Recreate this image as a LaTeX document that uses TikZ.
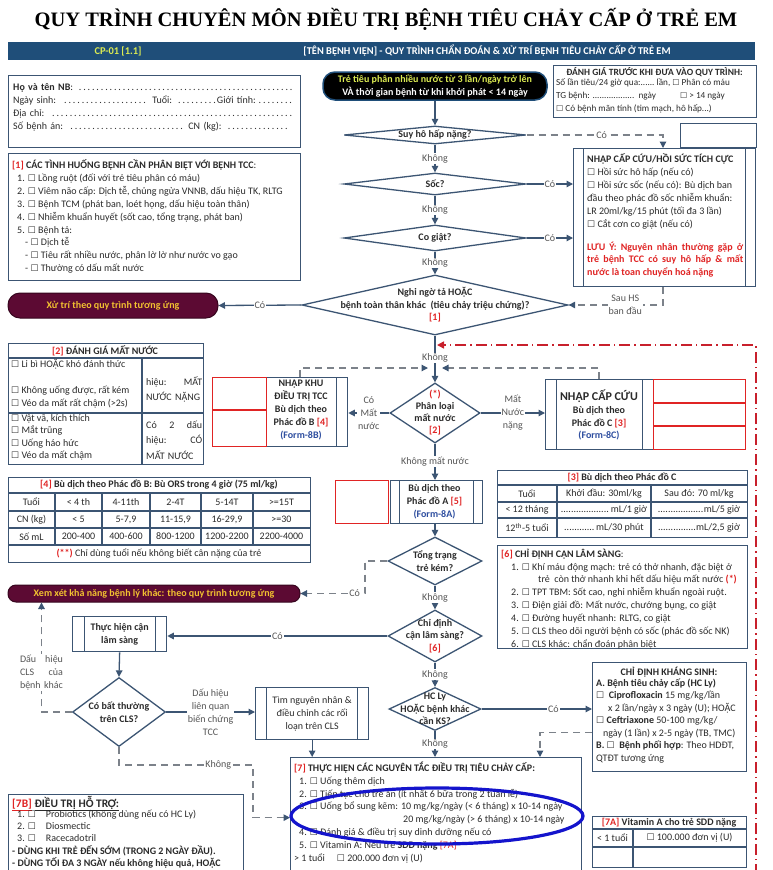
\documentclass[tikz,border=0pt]{standalone}
\usepackage{fontspec}
\setmainfont{Carlito}
\newfontfamily\titlefont{Liberation Serif}
\newfontfamily\symfont{DejaVu Sans}
\usetikzlibrary{arrows.meta,shapes.geometric,positioning,calc}

\definecolor{bord}{HTML}{3C5573}
\definecolor{hdr}{HTML}{1F4E79}
\definecolor{redc}{HTML}{E02424}
\definecolor{formc}{HTML}{2F4FA0}
\definecolor{maroon}{HTML}{5C0A33}
\definecolor{gold}{HTML}{F2C230}
\definecolor{lime}{HTML}{DCEB52}
\definecolor{dgrey}{HTML}{7C828A}
\definecolor{ink}{HTML}{2B2B2B}
\definecolor{ring}{HTML}{1414CC}
\definecolor{loopc}{HTML}{C8202C}

\newcommand{\cb}{{\symfont\fontsize{9}{9}\selectfont ☐}}
\newcommand{\scb}{{\symfont\fontsize{8}{8}\selectfont ☐}}
\newcommand{\rd}[1]{\textcolor{redc}{#1}}
\newcommand{\fs}{\fontsize{10}{12.9}\selectfont}
\newcommand{\dotrun}[1]{\makebox[#1]{\leaders\hbox{.}\hfill}}

\tikzset{
  box/.style={draw=bord, line width=1.3pt, fill=white, anchor=north west, inner sep=0pt},
  proc/.style={box, path picture={
      \draw[bord, line width=1.2pt]
        ([xshift=#1]path picture bounding box.north west) -- ([xshift=#1]path picture bounding box.south west)
        ([xshift=-#1]path picture bounding box.north east) -- ([xshift=-#1]path picture bounding box.south east);}},
  proc/.default=11pt,
  procr/.style={box, path picture={
      \draw[bord, line width=1.2pt]
        ([xshift=-11pt]path picture bounding box.north east) -- ([xshift=-11pt]path picture bounding box.south east);}},
  rbox/.style={draw=redc, line width=1.3pt, fill=white, anchor=north west, inner sep=0pt},
  tline/.style={draw=bord, line width=1.1pt},
  txt/.style={anchor=north west, align=left, inner sep=0pt, font=\fs},
  btxt/.style={align=center, inner sep=0pt, font=\fs\bfseries},
  dia/.style={diamond, draw=bord, line width=1.3pt, fill=white, inner sep=0pt},
  dtxt/.style={align=center, inner sep=0pt, font=\fs\bfseries, text=ink},
  pill/.style={rounded corners=8pt, fill=maroon, draw=maroon!60!black, line width=1pt, text=gold, font=\fs\bfseries, inner sep=0pt},
  lbl/.style={fill=white, inner sep=1pt, text=ink!80, font=\fs},
  arr/.style={draw=bord, line width=1.3pt, -{Triangle[length=6.5pt,width=6.5pt]}},
  garr/.style={draw=dgrey, line width=1.2pt, dash pattern=on 7pt off 5pt, -{Triangle[length=6.5pt,width=6.5pt,color=bord]}},
  redloop/.style={draw=loopc, line width=1.5pt, dash pattern=on 11pt off 4pt on 1.5pt off 4pt, -{Triangle[length=7pt,width=7pt]}},
}

\begin{document}
\begin{tikzpicture}[x=1pt,y=-1pt,font=\fs,text=ink]
\useasboundingbox[fill=white] (0,0) rectangle (772,870);

% title and header bar
\node[font=\titlefont\bfseries\fontsize{20.5}{24}\selectfont, text=black] (title) at (386,19)
  {QUY TRÌNH CHUYÊN MÔN ĐIỀU TRỊ BỆNH TIÊU CHẢY CẤP Ở TRẺ EM};
\node[fill=hdr, anchor=north west, minimum width=747, minimum height=18, inner sep=0pt] (bar) at (8,42) {};
\node[text=lime, font=\fontsize{10.4}{12}\selectfont\bfseries] (cp) at (118,51) {CP-01 [1.1]};
\node[text=white, font=\fontsize{10.4}{12}\selectfont\bfseries] (hname) at (487,51)
  {[TÊN BỆNH VIỆN] - QUY TRÌNH CHẨN ĐOÁN \& XỬ TRÍ BỆNH TIÊU CHẢY CẤP Ở TRẺ EM};

% left column boxes
\node[box, minimum width=292, minimum height=72] (pat) at (8,75) {};
\node[txt, text width=282] (patx) at (13,83.5) {\textbf{Họ và tên NB}: \dotfill\\
Ngày sinh: \makebox[88pt]{\dotfill} Tuổi: \makebox[40pt]{\dotfill}Giới tính:\dotfill\\
Địa chỉ: \dotfill\\
Số bệnh án: \makebox[117pt]{\dotfill} CN (kg): \dotfill\hspace*{6pt}};

\node[box, minimum width=292, minimum height=127] (b1) at (8,153) {};
\node[txt] (b1x) at (12,159.5) {\textbf{\rd{[1]} CÁC TÌNH HUỐNG BỆNH CẦN PHÂN BIỆT VỚI BỆNH TCC}:\\
\hspace*{5pt}1. \cb\ Lồng ruột (đối với trẻ tiêu phân có máu)\\
\hspace*{5pt}2. \cb\ Viêm não cấp: Dịch tễ, chủng ngừa VNNB, dấu hiệu TK, RLTG\\
\hspace*{5pt}3. \cb\ Bệnh TCM (phát ban, loét họng, dấu hiệu toàn thân)\\
\hspace*{5pt}4. \cb\ Nhiễm khuẩn huyết (sốt cao, tổng trạng, phát ban)\\
\hspace*{5pt}5. \cb\ Bệnh tả:\\
\hspace*{13pt}- \cb\ Dịch tễ\\
\hspace*{13pt}- \cb\ Tiêu rất nhiều nước, phân lờ lờ như nước vo gạo\\
\hspace*{13pt}- \cb\ Thường có dấu mất nước};

\node[pill, rounded corners=12pt, minimum width=210, minimum height=25] (pill1) at (113,305.5) {Xử trí theo quy trình tương ứng};

% [2] danh gia mat nuoc
\node[box, minimum width=195, minimum height=121] (b2) at (8,343) {};
\draw[tline] (8,358) -- (203,358) (142,358) -- (142,464) (8,413) -- (203,413);
\node[btxt] (b2t) at (105,350.5) {\rd{[2]} ĐÁNH GIÁ MẤT NƯỚC};
\node[txt] (b2a) at (11,359.5) {\cb\ Li bì HOẶC khó đánh thức\\ \mbox{}\\ \cb\ Không uống được, rất kém\\ \cb\ Véo da mất rất chậm (>2s)};
\node[txt, font=\fontsize{10}{12.6}\selectfont] (b2b) at (11,414) {\cb\ Vật vã, kích thích\\ \cb\ Mắt trũng\\ \cb\ Uống háo hức\\ \cb\ Véo da mất chậm};
\node[txt, text width=56, font=\fontsize{10}{15}\selectfont] (b2c) at (146,376.5) {hiệu:\hfill MẤT\\NƯỚC NẶNG};
\node[txt, text width=56, font=\fontsize{10}{15.5}\selectfont] (b2d) at (146,420.5) {Có\hfill 2\hfill dấu\\hiệu:\hfill CÓ\\MẤT NƯỚC};

% [4] phac do B
\node[box, minimum width=302, minimum height=85] (b4) at (8,477) {};
\foreach \y in {493,511,528,545} \draw[tline] (8,\y) -- (310,\y);
\foreach \x in {55,102,150,201,253} \draw[tline] (\x,493) -- (\x,545);
\node[btxt] (b4t) at (159,485) {\rd{[4]} Bù dịch theo Phác đồ B: Bù ORS trong 4 giờ (75 ml/kg)};
\foreach \x/\a/\b/\c [count=\i] in {31.5/Tuổi/CN (kg)/Số mL, 78.5/< 4 th/< 5/200-400,
    126/4-11th/{5-7,9}/400-600, 175.5/2-4T/{11-15,9}/800-1200,
    227/5-14T/{16-29,9}/1200-2200, 281.5/>=15T/>=30/2200-4000} {
  \node (ta\i) at (\x,502) {\a};
  \node (tb\i) at (\x,519.5) {\b};
  \node (tc\i) at (\x,536.5) {\c};
}
\node (b4f) at (159,553.5) {\rd{\textbf{(**)}} Chỉ dùng tuổi nếu không biết cân nặng của trẻ};

\node[pill, minimum width=292, minimum height=17] (pill2) at (154,593.5) {Xem xét khả năng bệnh lý khác: theo quy trình tương ứng};

% right column boxes
\node[box, minimum width=203, minimum height=52] (dg) at (553,65) {};
\node[btxt, font=\fontsize{9.5}{11}\selectfont\bfseries] (dgt) at (654.5,72) {ĐÁNH GIÁ TRƯỚC KHI ĐƯA VÀO QUY TRÌNH:};
\node[txt, font=\fontsize{9.2}{12.9}\selectfont] (dgx) at (556,78.2) {Số lần tiêu/24 giờ qua:\dotrun{14pt} lần, \scb\ Phân có máu\\
TG bệnh: \dotrun{44pt} ngày\hspace*{24pt}\scb\ > 14 ngày\\
\scb\ Có bệnh mãn tính (tim mạch, hô hấp...)};

\node[box, minimum width=76, minimum height=24] (emp) at (680,123) {};
\node[proc=10pt, minimum width=182, minimum height=138] (hs) at (573,148) {};
\node[txt] (hsx) at (587,153.5) {\textbf{NHẬP CẤP CỨU/HỒI SỨC TÍCH CỰC}\\
\cb\ Hồi sức hô hấp (nếu có)\\
\cb\ Hồi sức sốc (nếu có): Bù dịch ban\\
đầu theo phác đồ sốc nhiễm khuẩn:\\
LR 20ml/kg/15 phút (tối đa 3 lần)\\
\cb\ Cắt cơn co giật (nếu có)};
\node[txt, text width=156, align=justify, font=\fontsize{10}{12.6}\selectfont\bfseries, text=redc] (hsn) at (587,241.5)
  {LƯU Ý: Nguyên nhân thường gặp ở\linebreak trẻ bệnh TCC có suy hô hấp \& mất\linebreak nước là toan chuyển hoá nặng};

% [3] phac do C
\node[box, minimum width=250, minimum height=67] (b3) at (497,470) {};
\foreach \y in {485,502,518} \draw[tline] (497,\y) -- (747,\y);
\foreach \x in {557,651} \draw[tline] (\x,485) -- (\x,537);
\node[btxt] (b3t) at (622,477.5) {\rd{[3]} Bù dịch theo Phác đồ C};
\foreach \y/\a/\b/\c [count=\i] in {493.5/Tuổi/{Khởi đầu: 30ml/kg}/{Sau đó: 70 ml/kg},
    510/< 12 tháng/{\dotrun{50pt}mL/1 giờ}/{\dotrun{46pt}mL/5 giờ},
    527.5/{12\textsuperscript{th}-5 tuổi}/{\dotrun{32pt}mL/30 phút}/{\dotrun{38pt}mL/2,5 giờ}} {
  \node (ca\i) at (527,\y) {\a};
  \node (cb\i) at (604,\y) {\b};
  \node (cc\i) at (699,\y) {\c};
}

% [6] chi dinh CLS
\node[box, minimum width=250, minimum height=103] (b6) at (497,545) {};
\node[txt] (b6x) at (501,548.5) {\textbf{\rd{[6]} CHỈ ĐỊNH CẬN LÂM SÀNG}:\\
\hspace*{10pt}1. \cb\ Khí máu động mạch: trẻ có thở nhanh, đặc biệt ở\\
\hspace*{37pt}trẻ\ \ còn thở nhanh khi hết dấu hiệu mất nước \rd{\textbf{(*)}}\\
\hspace*{10pt}2. \cb\ TPT TBM: Sốt cao, nghi nhiễm khuẩn ngoài ruột.\\
\hspace*{10pt}3. \cb\ Điện giải đồ: Mất nước, chướng bụng, co giật\\
\hspace*{10pt}4. \cb\ Đường huyết nhanh: RLTG, co giật\\
\hspace*{10pt}5. \cb\ CLS theo dõi người bệnh có sốc (phác đồ sốc NK)\\
\hspace*{10pt}6. \cb\ CLS khác: chẩn đoán phân biệt};

% khang sinh
\node[box, minimum width=154, minimum height=109] (ks) at (592,662) {};
\node[btxt] (kst) at (669,672) {CHỈ ĐỊNH KHÁNG SINH:};
\node[txt, font=\fontsize{10}{12.5}\selectfont] (ksx) at (596,678.5) {\textbf{A. Bệnh tiêu chảy cấp (HC Ly)}\\
\cb\ \ \textbf{Ciprofloxacin} 15 mg/kg/lần\\
\hspace*{12pt}x 2 lần/ngày x 3 ngày (U); HOẶC\\
\cb\ \textbf{Ceftriaxone} 50-100 mg/kg/\\
\hspace*{7pt}ngày (1 lần) x 2-5 ngày (TB, TMC)\\
\textbf{B. \cb\ \ Bệnh phối hợp}: Theo HDĐT,\\
QTĐT tương ứng};

% [7], [7A], [7B]
\node[box, minimum width=291, minimum height=120] (b7) at (290,757) {};
\node[txt] (b7x) at (294,761.5) {\textbf{\rd{[7]} THỰC HIỆN CÁC NGUYÊN TẮC ĐIỀU TRỊ TIÊU CHẢY CẤP:}\\
\hspace*{5pt}1. \cb\ Uống thêm dịch\\
\hspace*{5pt}2. \cb\ Tiếp tục cho trẻ ăn (ít nhất 6 bữa trong 2 tuần lễ)\\
\hspace*{5pt}3. \cb\ Uống bổ sung kẽm: 10 mg/kg/ngày (< 6 tháng) x 10-14 ngày\\
\hspace*{109pt}20 mg/kg/ngày (> 6 tháng) x 10-14 ngày\\
\hspace*{5pt}4. \cb\ Đánh giá \& điều trị suy dinh dưỡng nếu có\\
\hspace*{5pt}5. \cb\ Vitamin A: Nếu trẻ \textbf{SDD nặng} \rd{[7A]}\\
> 1 tuổi\hspace*{12pt}\cb\ 200.000 đơn vị (U)};

\node[box, minimum width=154, minimum height=51] (b7a) at (592,816) {};
\draw[tline] (592,829) -- (746,829) (592,847) -- (746,847) (633,829) -- (633,867);
\node[btxt] (b7at) at (669,822.5) {\rd{[7A]} Vitamin A cho trẻ SDD nặng};
\node (b7a1) at (612.5,838) {< 1 tuổi};
\node (b7a2) at (689.5,838) {\cb\ 100.000 đơn vị (U)};

\node[box, minimum width=235, minimum height=90] (b7b) at (8,794) {};
\node[anchor=west, inner sep=0pt, font=\fontsize{11.5}{13}\selectfont\bfseries] (b7bt) at (12,803.5)
  {\rd{\underline{[7B]}} \underline{ĐIỀU TRỊ HỖ TRỢ:}};
\node[txt, font=\fontsize{10}{12.3}\selectfont] (b7bx) at (12,809.5) {\hspace*{5pt}1. \cb\hspace{10pt}Probiotics (không dùng nếu có HC Ly)\\
\hspace*{5pt}2. \cb\hspace{10pt}Diosmectic\\
\hspace*{5pt}3. \cb\hspace{10pt}Racecadotril\\
\textbf{- DÙNG KHI TRẺ ĐẾN SỚM (TRONG 2 NGÀY ĐẦU).}\\
\textbf{- DÙNG TỐI ĐA 3 NGÀY nếu không hiệu quả, HOẶC}};

% main flow
\node[rounded corners=12pt, fill=black, draw=hdr, line width=1.5pt, minimum width=224, minimum height=28,
  inner sep=0pt, align=center, font=\fontsize{10}{12.5}\selectfont\bfseries] (start) at (435,86)
  {\textcolor{lime}{Trẻ tiêu phân nhiều nước từ 3 lần/ngày trở lên}\\\textcolor{white}{VÀ thời gian bệnh từ khi khởi phát < 14 ngày}};

\node[dia, minimum width=182, minimum height=18] (suy) at (435,135) {};
\node[dtxt] (suyt) at (suy) {Suy hô hấp nặng?};
\node[dia, minimum width=182, minimum height=22] (soc) at (435,184) {};
\node[dtxt] (soct) at (soc) {Sốc?};
\node[dia, minimum width=182, minimum height=26] (cogiat) at (435,238) {};
\node[dtxt] (cogiatt) at (cogiat) {Co giật?};
\node[dia, minimum width=266, minimum height=60] (nghi) at (435,305) {};
\node[dtxt, font=\fontsize{10}{12.5}\selectfont\bfseries] (nghit) at (nghi) {Nghi ngờ tả HOẶC\\bệnh toàn thân khác\ \ (tiêu chảy triệu chứng)?\\\rd{[1]}};
\node[dia, minimum width=90, minimum height=60] (phanloai) at (435,413) {};
\node[dtxt, font=\fontsize{10}{12}\selectfont\bfseries] (phanloait) at (phanloai) {\rd{(*)}\\Phân loại\\mất nước\\\rd{[2]}};

\node[procr, minimum width=81, minimum height=69] (nk) at (266,377) {};
\node[rbox, minimum width=54, minimum height=69] (rnk) at (212,377) {};
\draw[redc, line width=1.3pt] (rnk.west |- 0,410) -- (rnk.east |- 0,410);
\node[dtxt, font=\fontsize{10}{13}\selectfont\bfseries] (nkt) at (301,410)
  {NHẬP KHU\\ĐIỀU TRỊ TCC\\Bù dịch theo\\Phác đồ B \rd{[4]}\\\textcolor{formc}{(Form-8B)}};

\node[proc, minimum width=108, minimum height=70] (cc) at (545,379) {};
\node[rbox, minimum width=92, minimum height=70] (rcc) at (653,379) {};
\draw[redc, line width=1.3pt] (rcc.west |- 0,403) -- (rcc.east |- 0,403) (rcc.west |- 0,426) -- (rcc.east |- 0,426);
\node[dtxt] (cct) at (599,415)
  {{\fontsize{12}{14}\selectfont NHẬP CẤP CỨU}\\Bù dịch theo\\Phác đồ C \rd{[3]}\\\textcolor{formc}{(Form-8C)}};

\node[proc=9pt, minimum width=92, minimum height=43] (pa) at (390,480) {};
\node[rbox, minimum width=53, minimum height=43] (rpa) at (335,480) {};
\node[dtxt] (pat2) at (434.5,502) {Bù dịch theo\\Phác đồ A \rd{[5]}\\\textcolor{formc}{(Form-8A)}};

\node[dia, minimum width=94, minimum height=48] (tongtrang) at (435,561) {};
\node[dtxt] (tongtrangt) at (tongtrang) {Tổng trạng\\trẻ kém?};
\node[dia, minimum width=94, minimum height=52] (chidinh) at (435,636) {};
\node[dtxt, font=\fontsize{10}{12.5}\selectfont\bfseries] (chidinht) at (chidinh) {Chỉ định\\cận lâm sàng?\\\rd{[6]}};
\node[dia, minimum width=92, minimum height=43] (hcly) at (435,709) {};
\node[dtxt, font=\fontsize{10}{12.5}\selectfont\bfseries] (hclyt) at (hcly) {HC Ly\\HOẶC bệnh khác\\cần KS?};

\node[proc=11.5pt, minimum width=94, minimum height=35] (th) at (72,616) {};
\node[dtxt] (tht) at (th) {Thực hiện cận\\lâm sàng};
\node[dia, minimum width=93, minimum height=69] (cobat) at (119,712) {};
\node[dtxt] (cobatt) at (cobat) {Có bất thường\\trên CLS?};
\node[proc, minimum width=113, minimum height=52] (tim) at (255,687) {};
\node[align=center, inner sep=0pt] (timt) at (tim) {Tìm nguyên nhân \&\\điều chỉnh các rối\\loạn trên CLS};

% helper points
\coordinate (cl) at ([xshift=90pt]hs.north west);
\coordinate (cl2) at ([xshift=90pt]hs.south west);
\coordinate (jl) at (428,368);
\coordinate (jr) at (442,368);
\coordinate (rj) at (437,345);
\coordinate (lp1) at (756,875);
\coordinate (lp2) at (756,345);
\coordinate (tk) at (365,561);
\coordinate (kc) at (253,765);

% connectors
\draw[arr] (start) -- (suy);
\draw[arr] (suy) -- node[lbl]{Không} (soc);
\draw[arr] (soc) -- node[lbl]{Không} (cogiat);
\draw[arr] (cogiat) -- node[lbl]{Không} (nghi);
\draw[garr] (suy.east) -- node[lbl, pos=0.55]{Có} (suy.east -| cl) -- (cl);
\draw[arr] (soc.east) -- node[lbl]{Có} (soc.east -| hs.west);
\draw[arr] (cogiat.east) -- node[lbl]{Có} (cogiat.east -| hs.west);
\draw[garr] (cl2) |- node[lbl, pos=0.7, align=center]{Sau HS\\ban đầu} (nghi.east);
\draw[arr] (nghi.west) -- node[lbl]{Có} (pill1.east);
\draw[redloop] (lp1) -- (lp2) -- (rj);
\draw[garr] ([xshift=34pt]nk.north west) |- (jl);
\draw[garr] ([xshift=54pt]cc.north west) |- (jr);
\draw[arr] (nghi.south) -- node[lbl, pos=0.48]{Không} (phanloai.north);
\draw[arr] (phanloai.west) -- node[lbl, align=center]{Có\\Mất\\nước} (phanloai.west -| nk.east);
\draw[arr] (phanloai.east) -- node[lbl, align=center]{Mất\\Nước\\nặng} (phanloai.east -| cc.west);
\draw[arr] (phanloai.south) -- node[lbl]{Không mất nước} (pa.north -| phanloai.south);
\draw[arr] (pa.south -| tongtrang.north) -- (tongtrang.north);
\draw[garr] (tongtrang.west) -- (tk) |- node[lbl, pos=0.58]{Có} (pill2.east);
\draw[arr] (tongtrang.south) -- node[lbl]{Không} (chidinh.north);
\draw[arr] (chidinh.west) -- node[lbl]{Có} (th.east |- chidinh.west);
\draw[arr] (th.south) -- (cobat.north);
\draw[garr] (cobat.west) -| node[lbl, pos=0.68, text width=43pt, align=left]{Dấu\hfill hiệu\\CLS\hfill của\\bệnh khác} ([xshift=34pt]pill2.south west);
\draw[arr] (cobat.east) -- node[lbl, align=center]{Dấu hiệu\\liên quan\\biến chứng\\TCC} (cobat.east -| tim.west);
\draw[arr] (tim.south) -- (tim.south |- b7.north);
\draw[garr] (cobat.south) |- node[lbl, pos=0.87]{Không} (kc) |- (b7.west);
\draw[arr] (chidinh.south) -- node[lbl]{Không} (hcly.north);
\draw[arr] (hcly.east) -- node[lbl, pos=0.65]{Có} (hcly.east -| ks.west);
\draw[arr] (hcly.south) -- node[lbl]{Không} (hcly.south |- b7.north);
\draw[garr] ([yshift=-15.5pt]ks.west) -| ([xshift=250pt]b7.north west);

% highlight ring
\draw[ring, line width=3.2pt] (437,816) ellipse [x radius=146pt, y radius=28pt];
\end{tikzpicture}
\end{document}
